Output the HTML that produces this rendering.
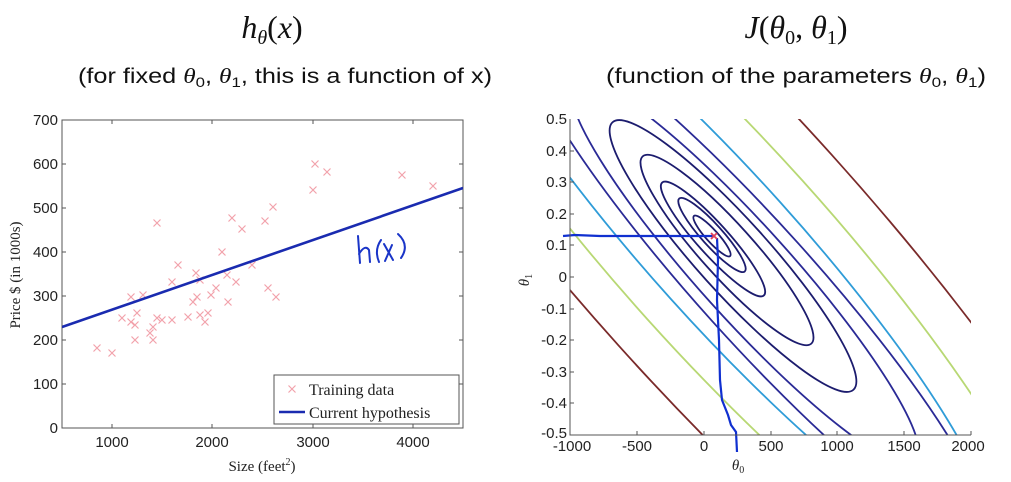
<!DOCTYPE html>
<html><head><meta charset="utf-8"><style>
html,body{margin:0;padding:0;background:#fff;overflow:hidden;width:1011px;height:482px;}
svg{display:block;position:absolute;left:0;top:0;}
.t{font-family:"Liberation Sans",sans-serif;font-size:15px;fill:#222;}
</style></head><body>
<svg width="1011" height="482" viewBox="0 0 1011 482" xmlns="http://www.w3.org/2000/svg">
<defs>
<clipPath id="cl"><rect x="62" y="120" width="401" height="308"/></clipPath>
<clipPath id="cr"><rect x="570" y="119" width="401" height="316"/></clipPath>
<g id="xm"><path d="M-3.5,-3.5L3.5,3.5M-3.5,3.5L3.5,-3.5" stroke="#f2a2ab" stroke-width="1.2" fill="none"/></g>
</defs>

<text x="272" y="38" text-anchor="middle" font-family="Liberation Serif,serif" font-size="32" font-style="italic" fill="#111">h<tspan font-size="20" dy="6">θ</tspan><tspan dy="-6" font-style="normal">(</tspan>x<tspan font-style="normal">)</tspan></text>
<text x="78" y="83" font-family="Liberation Sans,sans-serif" font-size="21" fill="#111" textLength="414" lengthAdjust="spacingAndGlyphs">(for fixed <tspan font-family="Liberation Serif,serif" font-style="italic">θ</tspan><tspan font-size="14" dy="4">0</tspan><tspan dy="-4">, </tspan><tspan font-family="Liberation Serif,serif" font-style="italic">θ</tspan><tspan font-size="14" dy="4">1</tspan><tspan dy="-4">, this is a function of x)</tspan></text>

<text x="796" y="38" text-anchor="middle" font-family="Liberation Serif,serif" font-size="32" font-style="italic" fill="#111">J<tspan font-style="normal">(</tspan>θ<tspan font-size="20" dy="6" font-style="normal">0</tspan><tspan dy="-6" font-style="normal">, </tspan>θ<tspan font-size="20" dy="6" font-style="normal">1</tspan><tspan dy="-6" font-style="normal">)</tspan></text>
<text x="606" y="83" font-family="Liberation Sans,sans-serif" font-size="21" fill="#111" textLength="380" lengthAdjust="spacingAndGlyphs">(function of the parameters <tspan font-family="Liberation Serif,serif" font-style="italic">θ</tspan><tspan font-size="14" dy="4">0</tspan><tspan dy="-4">, </tspan><tspan font-family="Liberation Serif,serif" font-style="italic">θ</tspan><tspan font-size="14" dy="4">1</tspan><tspan dy="-4">)</tspan></text>

<rect x="62" y="120" width="401" height="308" fill="none" stroke="#555" stroke-width="1"/>
<g stroke="#555" stroke-width="1">
<path d="M112,428v-4M212,428v-4M313,428v-4M413,428v-4M112,120v4M212,120v4M313,120v4M413,120v4"/>
<path d="M62,384h4M62,340h4M62,296h4M62,252h4M62,208h4M62,164h4M463,384h-4M463,340h-4M463,296h-4M463,252h-4M463,208h-4M463,164h-4"/>
</g>
<g class="t" text-anchor="end">
<text x="58" y="433">0</text><text x="58" y="389">100</text><text x="58" y="345">200</text><text x="58" y="301">300</text><text x="58" y="257">400</text><text x="58" y="213">500</text><text x="58" y="169">600</text><text x="58" y="125">700</text>
</g>
<g class="t" text-anchor="middle">
<text x="112" y="447">1000</text><text x="212" y="447">2000</text><text x="313" y="447">3000</text><text x="413" y="447">4000</text>
</g>
<text x="262" y="471" text-anchor="middle" font-family="Liberation Serif,serif" font-size="15" fill="#222">Size (feet<tspan font-size="10" dy="-6">2</tspan><tspan dy="6">)</tspan></text>
<text transform="translate(20,275) rotate(-90)" text-anchor="middle" font-family="Liberation Serif,serif" font-size="15" fill="#222">Price $ (in 1000s)</text>

<g clip-path="url(#cl)">
<g>
<use href="#xm" x="97" y="348"/><use href="#xm" x="112" y="353"/><use href="#xm" x="122" y="318"/><use href="#xm" x="131" y="297"/><use href="#xm" x="131" y="322"/><use href="#xm" x="135" y="325"/><use href="#xm" x="135" y="340"/><use href="#xm" x="137" y="313"/><use href="#xm" x="143" y="295"/><use href="#xm" x="150" y="333"/><use href="#xm" x="153" y="340"/><use href="#xm" x="153" y="327"/><use href="#xm" x="157" y="318"/><use href="#xm" x="157" y="223"/><use href="#xm" x="162" y="320"/><use href="#xm" x="172" y="282"/><use href="#xm" x="172" y="320"/><use href="#xm" x="178" y="265"/><use href="#xm" x="188" y="317"/><use href="#xm" x="193" y="302"/><use href="#xm" x="196" y="273"/><use href="#xm" x="197" y="297"/><use href="#xm" x="200" y="280"/><use href="#xm" x="200" y="315"/><use href="#xm" x="205" y="322"/><use href="#xm" x="208" y="313"/><use href="#xm" x="211" y="295"/><use href="#xm" x="216" y="288"/><use href="#xm" x="222" y="252"/><use href="#xm" x="227" y="275"/><use href="#xm" x="228" y="302"/><use href="#xm" x="232" y="218"/><use href="#xm" x="236" y="282"/><use href="#xm" x="242" y="229"/><use href="#xm" x="252" y="265"/><use href="#xm" x="265" y="221"/><use href="#xm" x="268" y="288"/><use href="#xm" x="273" y="207"/><use href="#xm" x="276" y="297"/><use href="#xm" x="313" y="190"/><use href="#xm" x="315" y="164"/><use href="#xm" x="327" y="172"/><use href="#xm" x="402" y="175"/><use href="#xm" x="433" y="186"/>
</g>
<line x1="62" y1="327" x2="463" y2="188" stroke="#1a2bb0" stroke-width="2.6"/>
</g>
<g fill="none" stroke="#1a35c8" stroke-width="2" stroke-linecap="round" stroke-linejoin="round">
<path d="M358,236 L360,263 M359,254 Q365,244 369,250 L370,262"/>
<path d="M381,240 Q374,250 379,262"/>
<path d="M384,244 L393,260 M392,245 L385,261"/>
<path d="M398,234 Q410,245 401,258"/>
</g>
<rect x="274" y="375" width="185" height="49" fill="#fff" stroke="#555" stroke-width="1"/>
<use href="#xm" x="292" y="389"/>
<line x1="279" y1="412" x2="305" y2="412" stroke="#1a2bb0" stroke-width="2.6"/>
<text x="309" y="395" font-family="Liberation Serif,serif" font-size="16" fill="#222">Training data</text>
<text x="309" y="418" font-family="Liberation Serif,serif" font-size="16" fill="#222">Current hypothesis</text>

<g clip-path="url(#cr)" fill="none" stroke-width="1.8">
<g stroke="#1c1c6e">
<ellipse cx="0" cy="0" rx="27" ry="6" transform="translate(712,236) rotate(48)"/>
<ellipse cx="0" cy="0" rx="49" ry="10.5" transform="translate(712,235) rotate(48)"/>
<ellipse cx="0" cy="0" rx="76" ry="15.5" transform="translate(713,239) rotate(48)"/>
<ellipse cx="0" cy="0" rx="126" ry="26" transform="translate(727,250) rotate(48)"/>
<ellipse cx="0" cy="0" rx="180" ry="36" transform="translate(733,256) rotate(48)"/>
</g>
<g stroke="#2a2a96">
<ellipse cx="0" cy="0" rx="255" ry="46" transform="translate(745,272) rotate(48)"/>
<ellipse cx="0" cy="0" rx="340" ry="58" transform="translate(755,282) rotate(48)"/>
</g>
<ellipse cx="0" cy="0" rx="390" ry="73" transform="translate(725,250) rotate(48)" stroke="#2f9cd8"/>
<ellipse cx="0" cy="0" rx="490" ry="104" transform="translate(725,250) rotate(48)" stroke="#b8d874"/>
<ellipse cx="0" cy="0" rx="640" ry="143" transform="translate(725,250) rotate(48)" stroke="#7a2a2a"/>
</g>
<path d="M563,236 L575,235 L600,236 L713,236 M717,238 L718,260 L717,300 L719,340 L720,380 L722,400 L728,415 L731,425 L736,432 L737,452" fill="none" stroke="#1030d0" stroke-width="2.2"/>
<path d="M711,233L717,239M711,239L717,233" stroke="#e0405a" stroke-width="1.8"/>

<path d="M570,119 V435 H971" fill="none" stroke="#555" stroke-width="1"/>
<g stroke="#555" stroke-width="1">
<path d="M637,435v-4M704,435v-4M771,435v-4M837,435v-4M904,435v-4M971,435v-4"/>
<path d="M570,151h4M570,182h4M570,214h4M570,245h4M570,277h4M570,309h4M570,340h4M570,372h4M570,403h4"/>
</g>
<g class="t" text-anchor="end">
<text x="567" y="124">0.5</text><text x="567" y="156">0.4</text><text x="567" y="187">0.3</text><text x="567" y="219">0.2</text><text x="567" y="250">0.1</text><text x="567" y="282">0</text><text x="567" y="314">-0.1</text><text x="567" y="345">-0.2</text><text x="567" y="377">-0.3</text><text x="567" y="408">-0.4</text><text x="567" y="438">-0.5</text>
</g>
<g class="t" text-anchor="middle">
<text x="572" y="451">-1000</text><text x="637" y="451">-500</text><text x="704" y="451">0</text><text x="771" y="451">500</text><text x="837" y="451">1000</text><text x="904" y="451">1500</text><text x="968" y="451">2000</text>
</g>
<text x="738" y="470" text-anchor="middle" font-family="Liberation Serif,serif" font-size="15" font-style="italic" fill="#222">θ<tspan font-size="10" dy="3" font-style="normal">0</tspan></text>
<text transform="translate(529,280) rotate(-90)" text-anchor="middle" font-family="Liberation Serif,serif" font-size="15" font-style="italic" fill="#222">θ<tspan font-size="10" dy="3" font-style="normal">1</tspan></text>
</svg>
</body></html>
